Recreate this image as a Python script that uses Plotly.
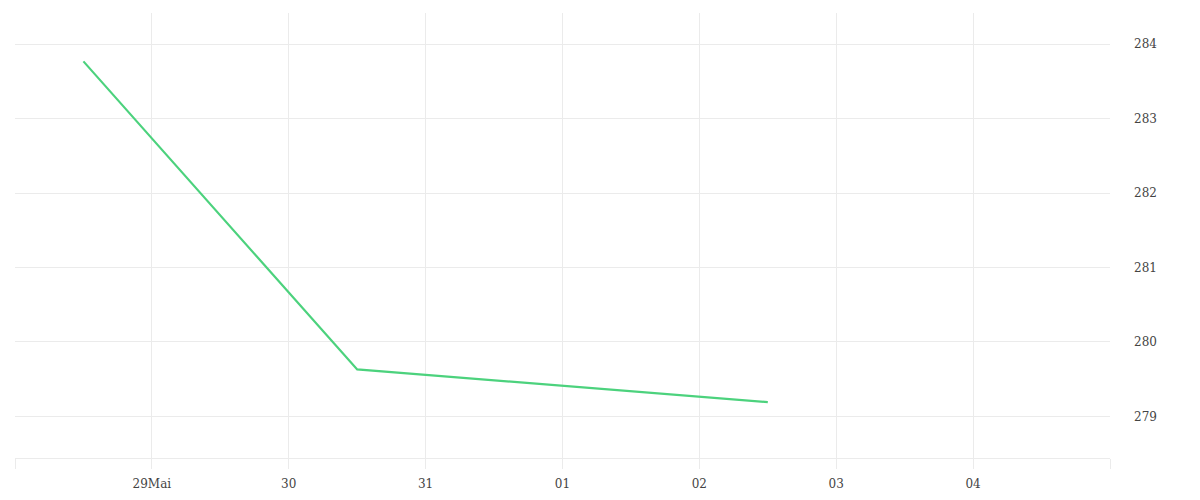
import plotly.graph_objects as go

dates = ["2023-05-28 12:00", "2023-05-30 12:00", "2023-06-02 12:00"]
values = [283.77, 279.63, 279.19]

tick_vals = ["2023-05-28", "2023-05-29", "2023-05-30", "2023-05-31", "2023-06-01",
             "2023-06-02", "2023-06-03", "2023-06-04", "2023-06-05"]
tick_text = ["", "29Mai", "30", "31", "01", "02", "03", "04", ""]
y_ticks = [279, 280, 281, 282, 283, 284]

grid = "#ebebeb"
font = dict(family="DejaVu Serif", size=12, color="#444444")

fig = go.Figure(go.Scatter(
    x=dates, y=values, mode="lines",
    line=dict(color="#4cd27d", width=2.2),
    hoverinfo="skip", showlegend=False,
))

fig.update_layout(
    width=1192, height=492,
    margin=dict(l=7, r=90, t=5, b=42),
    paper_bgcolor="white", plot_bgcolor="white",
    font=font,
    xaxis=dict(
        range=["2023-05-28", "2023-06-05"],
        tickmode="array", tickvals=tick_vals, ticktext=tick_text,
        showgrid=True, gridcolor=grid, gridwidth=1,
        ticks="outside", ticklen=10, tickcolor=grid,
        showline=True, linecolor=grid, linewidth=1,
        zeroline=False, tickfont=font, ticklabelstandoff=5,
    ),
    yaxis=dict(
        side="right",
        range=[278.44, 284.42],
        tickmode="array", tickvals=y_ticks,
        showgrid=True, gridcolor=grid, gridwidth=1,
        zeroline=False, showline=False, ticks="",
        tickfont=font, ticklabelstandoff=23,
    ),
)

fig.write_html("out.html")
